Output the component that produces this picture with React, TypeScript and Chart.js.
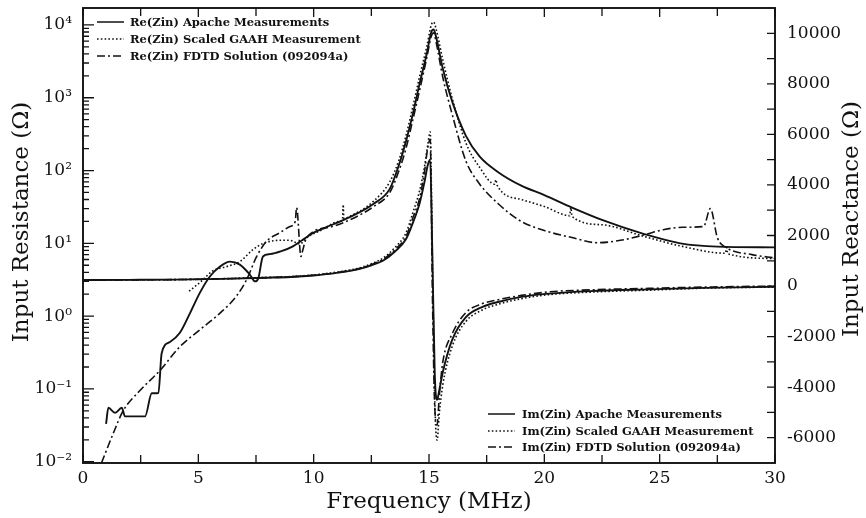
import React, { useEffect, useRef } from 'react';
import { Chart, registerables } from 'chart.js';

Chart.register(...registerables);

// ---------- Re(Zin) series (left, log axis) ----------
const reApacheFreq = [1.0, 1.1, 1.39, 1.68, 1.82, 2.69, 2.98, 3.27, 3.41, 3.77, 4.2, 4.64, 5.07, 5.5, 5.94, 6.37, 6.8, 7.24, 7.46, 7.6, 7.8, 8.1, 8.6, 9.1, 9.5, 10.0, 10.8, 11.7, 12.6, 13.3, 13.7, 14.0, 14.3, 14.6, 14.9, 15.1, 15.2, 15.3, 15.6, 16.0, 16.6, 17.2, 18.0, 19.0, 20.0, 21.2, 22.5, 24.3, 25.9, 27.5, 30.0];
const reApacheVals = [0.033, 0.055, 0.047, 0.055, 0.042, 0.042, 0.087, 0.088, 0.31, 0.44, 0.59, 1.1, 2.1, 3.5, 4.8, 5.6, 5.1, 3.7, 3.0, 3.3, 6.6, 7.1, 7.8, 9.1, 11, 14, 18, 24, 35, 56, 120, 250, 600, 1600, 4000, 8000, 8700, 7000, 2500, 900, 300, 155, 95, 62, 46, 31, 21, 13.5, 10, 9, 8.8];

const reGaahFreq = [4.6, 5.07, 5.64, 6.23, 6.8, 7.37, 7.82, 8.54, 8.97, 9.4, 9.7, 10.3, 11.1, 11.25, 11.28, 11.31, 11.5, 12.6, 13.3, 13.7, 14.0, 14.3, 14.6, 14.9, 15.1, 15.2, 15.3, 15.6, 16.0, 16.6, 17.2, 17.85, 17.9, 17.95, 19.0, 20.0, 21.1, 21.15, 21.2, 22.5, 24.3, 25.9, 27.85, 27.9, 27.95, 30.0];
const reGaahVals = [2.2, 2.9, 4.2, 4.8, 5.6, 8.2, 10, 11, 11, 9.8, 12, 15, 20, 21, 34, 22, 23, 38, 70, 140, 300, 750, 2000, 5000, 10000, 11000, 9000, 3300, 1000, 240, 110, 65, 75, 63, 40, 32, 24, 31, 23.5, 18, 12.5, 9.2, 7.3, 9.3, 7.2, 6.2];

const reFdtdFreq = [0.8, 1.3, 1.74, 2.47, 3.34, 4.2, 5.07, 5.94, 6.66, 7.1, 7.53, 7.96, 8.54, 8.97, 9.2, 9.26, 9.45, 9.5, 9.7, 10.8, 11.7, 12.6, 13.3, 13.7, 14.0, 14.3, 14.6, 14.9, 15.1, 15.2, 15.3, 15.6, 16.0, 16.6, 17.2, 18.0, 19.0, 20.0, 21.2, 22.3, 23.3, 24.3, 25.2, 26.0, 26.9, 27.2, 27.5, 27.9, 29.0, 30.0];
const reFdtdVals = [0.0096, 0.024, 0.05, 0.095, 0.18, 0.38, 0.65, 1.1, 1.9, 3.2, 6.6, 10.7, 14, 17, 20, 31, 6.6, 7.5, 12, 17, 22, 32, 50, 100, 200, 500, 1300, 3500, 7000, 7800, 6000, 1900, 600, 135, 65, 35, 20, 15, 12, 10.2, 11, 13, 15.5, 16.6, 17, 30, 12, 8.7, 7, 6.3];

// ---------- Im(Zin) series (right, linear axis) ----------
const imFreq = [0, 2, 4, 6, 8, 9, 10, 11, 12, 12.5, 13, 13.5, 14, 14.3, 14.6, 14.8, 14.95, 15.05, 15.15, 15.25, 15.35, 15.45, 15.6, 16.0, 16.6, 17.3, 18.0, 19.0, 20.2, 22.0, 24.6, 27.0, 30.0];
const imApacheVals = [240, 245, 255, 285, 330, 360, 420, 520, 680, 820, 1000, 1350, 1850, 2500, 3300, 4100, 4800, 5000, 1000, -3500, -4500, -4100, -3400, -2140, -1230, -830, -630, -430, -300, -200, -130, -70, -30];
const imGaahVals = [240, 245, 255, 290, 340, 375, 440, 550, 720, 880, 1100, 1500, 2100, 2900, 3800, 4700, 5600, 6100, 1000, -4500, -6100, -5000, -3900, -2400, -1400, -950, -720, -500, -340, -240, -160, -80, -40];
const imFdtdVals = [240, 245, 255, 285, 335, 365, 430, 530, 700, 850, 1050, 1420, 1950, 2700, 3500, 4500, 5500, 5800, -500, -4800, -5500, -4300, -3000, -1900, -1050, -700, -540, -370, -230, -150, -90, -40, 0];

// ---------- Axes ----------
const freqTicks = [0, 5, 10, 15, 20, 25, 30];
const resTicks = [0.01, 0.1, 1, 10, 100, 1000, 10000];
const resTickLabels = ['10⁻²', '10⁻¹', '10⁰', '10¹', '10²', '10³', '10⁴'];
const reactTicks = [-6000, -4000, -2000, 0, 2000, 4000, 6000, 8000, 10000];

const reLegendLabels = ['Re(Zin) Apache Measurements', 'Re(Zin) Scaled GAAH Measurement', 'Re(Zin) FDTD Solution (092094a)'];
const imLegendLabels = ['Im(Zin) Apache Measurements', 'Im(Zin) Scaled GAAH Measurement', 'Im(Zin) FDTD Solution (092094a)'];

const INK = '#121212';
const SOLID: number[] = [];
const DOTTED = [1.6, 2.2];
const DASHDOT = [8, 3, 2, 3];
const styles = [SOLID, DOTTED, DASHDOT];

const SERIF = '"DejaVu Serif", serif';

function pts(xs: number[], ys: number[]) {
  return xs.map((x, i) => ({ x, y: ys[i] }));
}

function ds(label: string, data: any[], dash: number[], axis: string) {
  return {
    label,
    data,
    yAxisID: axis,
    borderColor: INK,
    borderWidth: dash.length ? 1.6 : 1.9,
    borderDash: dash,
    pointRadius: 0,
    fill: false,
    cubicInterpolationMode: 'monotone' as const,
  };
}

function fixBox(s: any, w: number | null, h: number | null) {
  if (w !== null) s.width = w;
  if (h !== null) s.height = h;
  s.paddingTop = 0;
  s.paddingBottom = 0;
  s.paddingLeft = 0;
  s.paddingRight = 0;
}

const decorPlugin = {
  id: 'decor',
  afterDraw(chart: any) {
    const { ctx, chartArea: a, scales } = chart;
    const xs = scales.x, yl = scales.y, yr = scales.y1;
    ctx.save();
    ctx.strokeStyle = INK;
    ctx.setLineDash([]);
    ctx.lineWidth = 1.9;
    ctx.strokeRect(a.left, a.top, a.right - a.left, a.bottom - a.top);

    ctx.lineWidth = 1.3;
    ctx.beginPath();
    for (let f = 0; f <= 30; f += 2.5) {
      const px = xs.getPixelForValue(f);
      const len = f % 5 === 0 ? 9 : 8;
      ctx.moveTo(px, a.bottom); ctx.lineTo(px, a.bottom - len);
      ctx.moveTo(px, a.top); ctx.lineTo(px, a.top + len);
    }
    for (let e = -2; e <= 4; e++) {
      for (let m = 1; m <= 9; m++) {
        const v = m * Math.pow(10, e);
        if (v < yl.min || v > yl.max) continue;
        const py = yl.getPixelForValue(v);
        const len = m === 1 ? 11 : 6;
        ctx.moveTo(a.left, py); ctx.lineTo(a.left + len, py);
      }
    }
    for (let v = -6000; v <= 10000; v += 1000) {
      const py = yr.getPixelForValue(v);
      ctx.moveTo(a.right, py); ctx.lineTo(a.right - 8, py);
    }
    ctx.stroke();

    ctx.fillStyle = INK;
    ctx.font = `23px ${SERIF}`;
    ctx.textAlign = 'center';
    ctx.textBaseline = 'middle';
    ctx.fillText('Frequency (MHz)', (a.left + a.right) / 2, 502);
    ctx.save();
    ctx.translate(22, 222);
    ctx.rotate(-Math.PI / 2);
    ctx.fillText('Input Resistance (Ω)', 0, 0);
    ctx.restore();
    ctx.save();
    ctx.translate(852, 219);
    ctx.rotate(-Math.PI / 2);
    ctx.fillText('Input Reactance (Ω)', 0, 0);
    ctx.restore();

    const drawLegend = (labels: string[], x0: number, x1: number, tx: number, ys: number[]) => {
      labels.forEach((lab, i) => {
        ctx.setLineDash(styles[i]);
        ctx.lineWidth = 1.5;
        ctx.beginPath();
        ctx.moveTo(x0, ys[i]);
        ctx.lineTo(x1, ys[i]);
        ctx.stroke();
        ctx.setLineDash([]);
        ctx.font = `bold 11.5px ${SERIF}`;
        ctx.textAlign = 'left';
        ctx.textBaseline = 'middle';
        ctx.fillText(lab, tx, ys[i] + 1);
      });
    };
    drawLegend(reLegendLabels, 97, 124, 130, [22, 39, 56]);
    drawLegend(imLegendLabels, 488, 515, 522, [414, 431, 447]);
    ctx.restore();
  },
};

export default function App() {
  const ref = useRef<HTMLCanvasElement | null>(null);
  useEffect(() => {
    if (!ref.current) return;
    const chart = new Chart(ref.current, {
      type: 'line',
      data: {
        datasets: [
          ds(reLegendLabels[0], pts(reApacheFreq, reApacheVals), SOLID, 'y'),
          ds(reLegendLabels[1], pts(reGaahFreq, reGaahVals), DOTTED, 'y'),
          ds(reLegendLabels[2], pts(reFdtdFreq, reFdtdVals), DASHDOT, 'y'),
          ds(imLegendLabels[0], pts(imFreq, imApacheVals), SOLID, 'y1'),
          ds(imLegendLabels[1], pts(imFreq, imGaahVals), DOTTED, 'y1'),
          ds(imLegendLabels[2], pts(imFreq, imFdtdVals), DASHDOT, 'y1'),
        ],
      },
      options: {
        animation: false,
        responsive: false,
        devicePixelRatio: 1,
        layout: { padding: { top: 8, left: 0, right: 0, bottom: 0 } },
        plugins: { legend: { display: false }, tooltip: { enabled: false } },
        scales: {
          x: {
            type: 'linear',
            position: 'bottom',
            min: 0,
            max: 30,
            grid: { display: false, drawTicks: false },
            border: { display: false },
            ticks: { color: INK, font: { family: SERIF, size: 17 }, padding: 5, maxRotation: 0, autoSkip: false },
            afterBuildTicks: (s: any) => { s.ticks = freqTicks.map((v) => ({ value: v })); },
            afterFit: (s: any) => fixBox(s, null, 55),
          },
          y: {
            type: 'logarithmic',
            position: 'left',
            min: 0.0096,
            max: 17100,
            grid: { display: false, drawTicks: false },
            border: { display: false },
            ticks: {
              color: INK,
              font: { family: SERIF, size: 17 },
              padding: 11,
              autoSkip: false,
              callback: (v: any) => {
                const i = resTicks.findIndex((t) => Math.abs(t - v) / t < 1e-6);
                return i >= 0 ? resTickLabels[i] : '';
              },
            },
            afterBuildTicks: (s: any) => { s.ticks = resTicks.map((v) => ({ value: v })); },
            afterFit: (s: any) => fixBox(s, 83, null),
          },
          y1: {
            type: 'linear',
            position: 'right',
            min: -7000,
            max: 11000,
            grid: { display: false, drawTicks: false },
            border: { display: false },
            ticks: {
              color: INK,
              font: { family: SERIF, size: 17 },
              padding: 12,
              autoSkip: false,
              callback: (v: any) => String(v),
            },
            afterBuildTicks: (s: any) => { s.ticks = reactTicks.map((v) => ({ value: v })); },
            afterFit: (s: any) => fixBox(s, 91, null),
          },
        },
      },
      plugins: [decorPlugin],
    } as any);
    return () => chart.destroy();
  }, []);

  return (
    <div style={{ position: 'fixed', left: 0, top: 0, width: 866, height: 518, background: '#fff' }}>
      <canvas ref={ref} width={866} height={518} style={{ display: 'block', width: 866, height: 518 }} />
    </div>
  );
}
